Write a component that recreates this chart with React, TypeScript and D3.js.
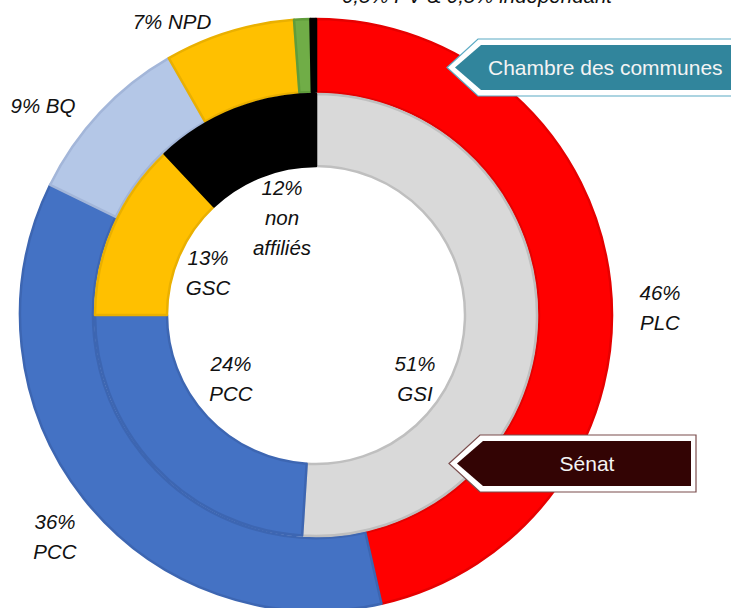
import React from "react";
import * as d3 from "d3";

// Chambre des communes (sièges)
const houseParties = ["PLC", "PCC", "BQ", "NPD", "PV", "Indépendant"];
const houseSeats = [157, 121, 32, 24, 3, 1];
const houseColors = ["#ff0000", "#4472c4", "#b4c7e7", "#ffc000", "#70ad47", "#000000"];
const houseStrokes = ["#e60000", "#3d66b2", "#a3b6d9", "#eab000", "#5f9c3b", "#000000"];

// Sénat (%)
const senateGroups = ["GSI", "PCC", "GSC", "non affiliés"];
const senateShare = [51, 24, 13, 12];
const senateColors = ["#d9d9d9", "#4472c4", "#ffc000", "#000000"];
const senateStrokes = ["#bfbfbf", "#3d66b2", "#eab000", "#000000"];

// étiquettes (lignes de texte)
const labelLines = [
  ["46%", "PLC"],
  ["36%", "PCC"],
  ["9% BQ"],
  ["7% NPD"],
  ["0,5% PV & 0,5% indépendant"],
  ["51%", "GSI"],
  ["24%", "PCC"],
  ["13%", "GSC"],
  ["12%", "non", "affiliés"],
];
// positions des étiquettes (centre x, ligne de base y)
const labelPos = [
  [660, 300],
  [55, 529],
  [43, 113],
  [172, 29],
  [477, 3],
  [415, 371],
  [231, 371],
  [208, 265],
  [282, 195],
];

const W = 731;
const H = 608;
const cx = 316;
const cy = 315;

const pie = d3
  .pie<number>()
  .sort(null)
  .startAngle(0)
  .endAngle(2 * Math.PI);

const outerArc = d3.arc<d3.PieArcDatum<number>>().innerRadius(223).outerRadius(296);
const innerArc = d3.arc<d3.PieArcDatum<number>>().innerRadius(149).outerRadius(221);

const font = "'Liberation Sans', Arial, sans-serif";

const Callout = ({ x, y, w, h, fill, stroke, text }) => {
  // boîte en forme de flèche pointant vers la gauche
  const tip = 26;
  const fillPts = [
    [x, y + h / 2],
    [x + tip, y],
    [x + w, y],
    [x + w, y + h],
    [x + tip, y + h],
  ];
  const o = 6;
  const outPts = [
    [x - o - 2, y + h / 2],
    [x + tip - 3, y - o],
    [x + w + o - 1, y - o],
    [x + w + o - 1, y + h + o],
    [x + tip - 3, y + h + o],
  ];
  return (
    <g>
      <polygon points={outPts.map((p) => p.join(",")).join(" ")} fill="#fff" stroke={stroke} strokeWidth={1.2} />
      <polygon points={fillPts.map((p) => p.join(",")).join(" ")} fill={fill} />
      <text
        x={x + tip + (w - tip) / 2}
        y={y + h / 2 + 7}
        textAnchor="middle"
        fontFamily={font}
        fontSize={21}
        fill="#f4f4f4"
      >
        {text}
      </text>
    </g>
  );
};

export default function App() {
  const outer = pie(houseSeats);
  const inner = pie(senateShare);
  return (
    <svg width={W} height={H} style={{ position: "absolute", left: 0, top: 0 }}>
      <rect width={W} height={H} fill="#fff" />
      <g transform={`translate(${cx},${cy})`}>
        {outer.map((d, i) => (
          <path
            key={houseParties[i]}
            d={outerArc(d) || ""}
            fill={houseColors[i]}
            stroke={houseStrokes[i]}
            strokeWidth={2.5}
            strokeLinejoin="round"
          />
        ))}
        {inner.map((d, i) => (
          <path
            key={senateGroups[i]}
            d={innerArc(d) || ""}
            fill={senateColors[i]}
            stroke={senateStrokes[i]}
            strokeWidth={2.5}
            strokeLinejoin="round"
          />
        ))}
      </g>
      {labelLines.map((lines, i) => (
        <text
          key={i}
          x={labelPos[i][0]}
          y={labelPos[i][1]}
          textAnchor="middle"
          fontFamily={font}
          fontStyle="italic"
          fontSize={20.5}
          fill="#111"
        >
          {lines.map((l, j) => (
            <tspan key={j} x={labelPos[i][0]} dy={j === 0 ? 0 : 30}>
              {l}
            </tspan>
          ))}
        </text>
      ))}
      <Callout x={455} y={45} w={300} h={45} fill="#31859c" stroke="#5aaac4" text="" />
      <text x={488} y={68} dy={7} fontFamily={font} fontSize={21} fill="#f4f4f4">
        Chambre des communes
      </text>
      <Callout x={457} y={441} w={234} h={45} fill="#330404" stroke="#7a4c4c" text="Sénat" />
    </svg>
  );
}
